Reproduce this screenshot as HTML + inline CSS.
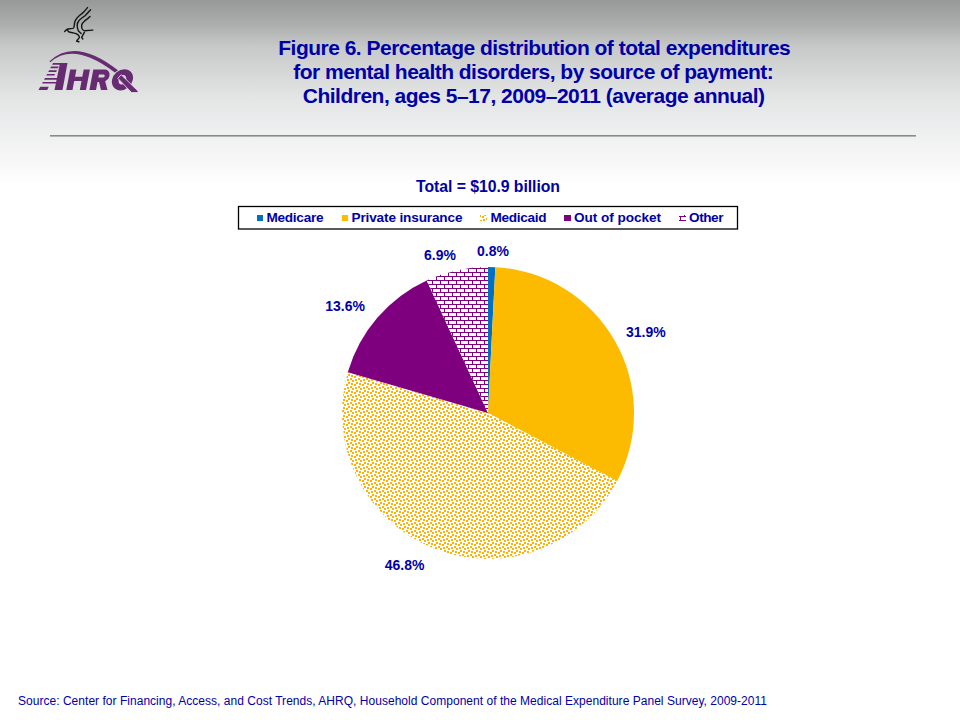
<!DOCTYPE html>
<html><head><meta charset="utf-8">
<style>
html,body{margin:0;padding:0;width:960px;height:720px;overflow:hidden;background:#fff;}
svg{display:block;}
text{font-family:"Liberation Sans", sans-serif;}
</style></head>
<body>
<svg width="960" height="720" viewBox="0 0 960 720">
<defs>
<linearGradient id="bg" gradientUnits="userSpaceOnUse" x1="0" y1="0" x2="0" y2="186">
<stop offset="0" stop-color="#979999"/>
<stop offset="0.13" stop-color="#acaeae"/>
<stop offset="0.249" stop-color="#c7c9c9"/>
<stop offset="0.519" stop-color="#e3e5e5"/>
<stop offset="0.843" stop-color="#f6f6f7"/>
<stop offset="1" stop-color="#ffffff"/>
</linearGradient>
<pattern id="dots" width="8" height="8" patternUnits="userSpaceOnUse" patternTransform="translate(4,2)">
<rect width="8" height="8" fill="#fff"/>
<g fill="#FFB000">
<rect x="2" y="0" width="2" height="2"/>
<rect x="7" y="1" width="1" height="2"/><rect x="0" y="1" width="1" height="2"/>
<rect x="4" y="2" width="2" height="2"/>
<rect x="0" y="4" width="2" height="2"/>
<rect x="3" y="5" width="2" height="2"/>
<rect x="6" y="6" width="2" height="2"/>
</g>
</pattern>
<pattern id="brick" width="8" height="8" patternUnits="userSpaceOnUse">
<rect width="8" height="8" fill="#fff"/>
<rect x="0" y="0" width="8" height="1" fill="#800080"/>
<rect x="0" y="4" width="8" height="1" fill="#800080"/>
<rect x="0" y="0" width="1" height="4" fill="#800080"/>
<rect x="4" y="4" width="1" height="4" fill="#800080"/>
</pattern>
</defs>
<rect x="0" y="0" width="960" height="186" fill="url(#bg)"/>
<g id="ahrq" fill="#672b72">
<path d="M49.5,61.3 Q75,36.8 118,70.3 L114.8,72.6 Q74,41.2 50.3,62.3 Z"/>
<polygon points="60,63 67.5,63 62.5,90 54.5,90"/>
<polygon points="53.00,63 60.50,63 60.15,64.7 52.09,64.7"/>
<polygon points="51.12,66.5 58.78,66.5 57.94,68.2 50.21,68.2"/>
<polygon points="49.13,70.2 56.96,70.2 56.12,71.9 48.22,71.9"/>
<polygon points="47.09,74 55.08,74 54.30,75.6 46.23,75.6"/>
<polygon points="44.94,78 57.44,78 57.10,79.7 44.03,79.7"/>
<polygon points="42.80,82 56.63,82 56.30,83.6 41.94,83.6"/>
<polygon points="40.22,86.8 48.78,86.8 47.21,90 38.50,90"/>
<polygon points="70.2,69.4 76.4,69.4 72.5,90 66.25,90"/>
<polygon points="83.7,69.4 89.9,69.4 86,90 79.8,90"/>
<polygon points="74.5,76.8 86.8,76.8 86,81 73.7,81"/>
<g transform="translate(0,90) skewX(-10.8) translate(0,-90)">
<path d="M89.4,69.4 H100.4 A6.3,6.3 0 0 1 103.5,81.2 L107.5,90 H101 L97.5,82 H96 V90 H89.4 Z M96,74.4 V77.5 H100.5 A1.55,1.55 0 0 0 100.5,74.4 Z" fill-rule="evenodd"/>
<path d="M120.5,69.2 A10.4,10.6 0 1 0 120.5,90.4 A10.4,10.6 0 1 0 120.5,69.2 Z M120.5,75 A3.8,4.8 0 1 1 120.5,84.6 A3.8,4.8 0 1 1 120.5,75 Z" fill-rule="evenodd"/>
</g>
<polygon points="117.8,78.3 121.2,74.7 138.2,91.2 137.2,92.5 131.5,92.5" stroke="#dcdcdc" stroke-width="0.9"/>
</g>
<g id="eagle" fill="none" stroke="#161616" stroke-width="1.45" stroke-linecap="round" stroke-linejoin="round">
<path d="M87.5,7.6 C85.5,10 84,12 82.2,13.4 C79.5,15.5 77.5,17 76.7,18.4 C75.2,20 74.9,21 74.7,22.3 C74.3,24.5 74.3,26 73.9,27.3 C73.6,28 73.2,28.3 72.8,28.4 L67.8,29 C66.5,29.5 65.6,30.6 64.7,31.5"/>
<path d="M90.6,9.8 C88.5,12 87,14 85,15.7 C82.5,17.7 80,19 78.9,20.7 C77.8,22 77.2,23.5 77.2,25.1 C77.2,27 77.5,29.2 78.3,30.7 C79.2,31.8 80.2,32.6 81.1,33.4"/>
<path d="M90,16.5 C88,18.5 86,20 84.4,21.2 C83,22.3 82,23.5 81.7,25.1 C81.5,26.5 81.8,28 82.2,29 C82.8,30 83.5,30.5 84.4,30.7 L92.8,30.1"/>
<path d="M67.8,30.2 C68,31 68.3,31.5 68.6,31.8 C70,32.3 71.8,32.6 73.3,32.9 C75,33.3 76.8,33.9 77.8,34.6 C78.8,35.3 79.3,36.3 79.4,37.3 C79.2,38.2 78.4,38.9 77.8,39.5 C77.2,40.2 76.8,40.8 76.7,41.2 L78.9,41.8"/>
<path d="M84.4,32.3 C83.5,34 82.5,35.7 81.7,37.3 L82.8,39"/>
</g>
<rect x="50" y="135" width="866" height="1.6" fill="#8a8a8a"/>

<g fill="#0000a8" font-weight="bold" font-size="21">
<text x="278.3" y="54.8" textLength="512.5" lengthAdjust="spacing">Figure 6. Percentage distribution of total expenditures</text>
<text x="293.3" y="78.8" textLength="480.5" lengthAdjust="spacing">for mental health disorders, by source of payment:</text>
<text x="302.8" y="102.8" textLength="462.3" lengthAdjust="spacing">Children, ages 5–17, 2009–2011 (average annual)</text>
</g>

<text x="416" y="192.3" fill="#0000a8" font-weight="bold" font-size="15.8" textLength="144" lengthAdjust="spacing">Total = $10.9 billion</text>

<rect x="238.5" y="206.5" width="499" height="22.5" fill="#fff" stroke="#000" stroke-width="1.3"/>
<g font-weight="bold" font-size="13.6" fill="#0000a8">
<rect x="257" y="215" width="6" height="6" fill="#0070C0"/>
<text x="266.5" y="221.9" textLength="57" lengthAdjust="spacing">Medicare</text>
<rect x="342" y="215" width="6" height="6" fill="#FCBA00"/>
<text x="351.5" y="221.9" textLength="111" lengthAdjust="spacing">Private insurance</text>
<rect x="480" y="215" width="7" height="6" fill="url(#dots)"/>
<text x="490.5" y="221.9" textLength="56" lengthAdjust="spacing">Medicaid</text>
<rect x="564" y="215" width="7" height="6" fill="#7F007F"/>
<text x="574" y="221.9" textLength="87" lengthAdjust="spacing">Out of pocket</text>
<rect x="679" y="215" width="7" height="6" fill="url(#brick)"/>
<text x="689" y="221.9" textLength="34.5" lengthAdjust="spacing">Other</text>
</g>
<g font-weight="bold" font-size="14" fill="#0000a8">
<text x="477" y="255.6">0.8%</text>
<text x="424" y="259.8">6.9%</text>
<text x="325.3" y="310.6">13.6%</text>
<text x="626" y="336.75">31.9%</text>
<text x="384.7" y="569.8">46.8%</text>
</g>

<!-- pie: center 488,413 r 146 -->
<g id="pie">
<path d="M488,413 L488.00,267.00 A146,146 0 0 1 495.34,267.18 Z" fill="#0070C0"/>
<path d="M488,413 L495.34,267.18 A146,146 0 0 1 617.24,480.91 Z" fill="#FCBA00"/>
<path d="M488,413 L617.24,480.91 A146,146 0 0 1 347.80,372.27 Z" fill="url(#dots)"/>
<path d="M488,413 L347.80,372.27 A146,146 0 0 1 426.67,280.51 Z" fill="#7F007F"/>
<path d="M488,413 L426.67,280.51 A146,146 0 0 1 488.00,267.00 Z" fill="url(#brick)"/>
</g>

<text x="18" y="704.7" fill="#0000a8" font-size="12" textLength="749" lengthAdjust="spacing">Source: Center for Financing, Access, and Cost Trends, AHRQ, Household Component of the Medical Expenditure Panel Survey, 2009-2011</text>
</svg>
</body></html>
